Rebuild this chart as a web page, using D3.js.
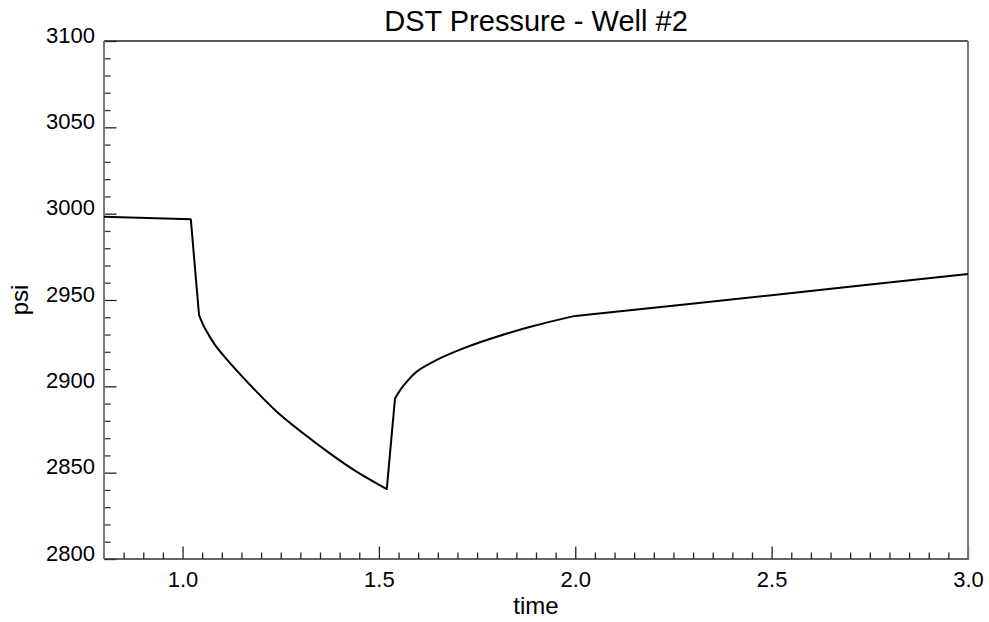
<!DOCTYPE html>
<html>
<head>
<meta charset="utf-8">
<script src="https://cdn.jsdelivr.net/npm/d3@7"></script>
<style>
  html, body { margin: 0; padding: 0; background: #fff; }
  svg { display: block; font-family: "Liberation Sans", Arial, sans-serif; }
</style>
</head>
<body>
<svg id="chart" width="989" height="622"></svg>
<script>
// ---- data ----
const timeValues = [0.8, 1.021, 1.042, 1.057, 1.083, 1.125, 1.180, 1.240, 1.307, 1.375, 1.443, 1.520,
                    1.541, 1.562, 1.596, 1.647, 1.715, 1.800, 1.893, 2.0, 2.5, 3.0];
const psiValues  = [2998.2, 2996.8, 2941.3, 2933.6, 2923.9, 2912.4, 2898.9, 2885.3, 2872.8, 2861.2, 2850.6, 2840.5,
                    2893.0, 2900.2, 2908.5, 2915.3, 2922.0, 2928.7, 2934.9, 2940.8, 2952.8, 2965.0];
// indices where the test changes phase (sharp corners in the trace)
const phaseBreaks = [0, 1, 2, 11, 12, 19, 21];
const xMajorTicks = [1.0, 1.5, 2.0, 2.5, 3.0];
const xTickLabels = ["1.0", "1.5", "2.0", "2.5", "3.0"];
const yMajorTicks = [2800, 2850, 2900, 2950, 3000, 3050, 3100];
const yTickLabels = ["2800", "2850", "2900", "2950", "3000", "3050", "3100"];
const xDomain = [0.8, 3.0];
const yDomain = [2800, 3100];
const titleText = "DST Pressure - Well #2";
const xTitle = "time";
const yTitle = "psi";

// ---- layout ----
const L = 104, R = 968, T = 41, B = 559;
const svg = d3.select("#chart");
const x = d3.scaleLinear().domain(xDomain).range([L, R]);
const y = d3.scaleLinear().domain(yDomain).range([B, T]);

const xMinor = d3.range(Math.round(xDomain[0] * 20) + 1, Math.round(xDomain[1] * 20) + 1)
  .map(k => k / 20).filter(v => !xMajorTicks.some(m => Math.abs(m - v) < 1e-9));
const yMinor = d3.range(yDomain[0] + 10, yDomain[1], 10)
  .filter(v => !yMajorTicks.includes(v));

const font = "'Liberation Sans', Arial, sans-serif";

// minor x ticks
svg.append("g").attr("transform", `translate(0,${B})`)
  .call(d3.axisBottom(x).tickValues(xMinor).tickSize(-6.5).tickFormat(""))
  .call(g => g.select(".domain").remove())
  .call(g => g.selectAll("line").attr("stroke", "#222").attr("stroke-width", 1.3));
// major x ticks
svg.append("g").attr("transform", `translate(0,${B})`)
  .call(d3.axisBottom(x).tickValues(xMajorTicks).tickSize(-12.5)
    .tickFormat((d, i) => xTickLabels[i]))
  .call(g => g.select(".domain").remove())
  .call(g => g.selectAll("line").attr("stroke", "#222").attr("stroke-width", 1.3))
  .call(g => g.selectAll("text").attr("y", 28).attr("dy", 0)
    .attr("font-size", 22).attr("fill", "#000").attr("font-family", font));

// minor y ticks
svg.append("g").attr("transform", `translate(${L},0)`)
  .call(d3.axisLeft(y).tickValues(yMinor).tickSize(-6.5).tickFormat(""))
  .call(g => g.select(".domain").remove())
  .call(g => g.selectAll("line").attr("stroke", "#333").attr("stroke-width", 1.3));
// major y ticks
svg.append("g").attr("transform", `translate(${L},0)`)
  .call(d3.axisLeft(y).tickValues(yMajorTicks).tickSize(-12.5)
    .tickFormat((d, i) => yTickLabels[i]))
  .call(g => g.select(".domain").remove())
  .call(g => g.selectAll("line").attr("stroke", "#222").attr("stroke-width", 1.3))
  .call(g => g.selectAll("text").attr("x", -9).attr("y", 1).attr("dy", 0)
    .attr("font-size", 22).attr("fill", "#000").attr("font-family", font));

// frame
svg.append("line").attr("x1", L).attr("x2", R).attr("y1", T).attr("y2", T)
  .attr("stroke", "#222").attr("stroke-width", 1.5);
svg.append("line").attr("x1", L).attr("x2", R + 1).attr("y1", B).attr("y2", B)
  .attr("stroke", "#333").attr("stroke-width", 1.5);
svg.append("line").attr("x1", L).attr("x2", L).attr("y1", T).attr("y2", B)
  .attr("stroke", "#777").attr("stroke-width", 2);
svg.append("line").attr("x1", R).attr("x2", R).attr("y1", T).attr("y2", B)
  .attr("stroke", "#777").attr("stroke-width", 2);

// data line: each phase drawn as its own smooth piece, joined at sharp corners
const pts = timeValues.map((t, i) => [t, psiValues[i]]);
const line = d3.line().x(d => x(d[0])).y(d => y(d[1])).curve(d3.curveCatmullRom.alpha(0.5));
let dStr = "";
for (let k = 0; k < phaseBreaks.length - 1; k++) {
  const seg = pts.slice(phaseBreaks[k], phaseBreaks[k + 1] + 1);
  let s = line(seg);
  if (k > 0) s = "L" + s.slice(1);
  dStr += s;
}
svg.append("path")
  .attr("fill", "none").attr("stroke", "#000").attr("stroke-width", 2)
  .attr("stroke-linejoin", "round")
  .attr("d", dStr);

// titles
svg.append("text").attr("x", (L + R) / 2).attr("y", 31).attr("text-anchor", "middle")
  .attr("font-size", 29).attr("fill", "#000").text(titleText);
svg.append("text").attr("x", (L + R) / 2).attr("y", 614).attr("text-anchor", "middle")
  .attr("font-size", 24).attr("fill", "#000").text(xTitle);
svg.append("text").attr("transform", `translate(28,${(T + B) / 2}) rotate(-90)`)
  .attr("text-anchor", "middle").attr("font-size", 24).attr("fill", "#000").text(yTitle);
</script>
</body>
</html>
